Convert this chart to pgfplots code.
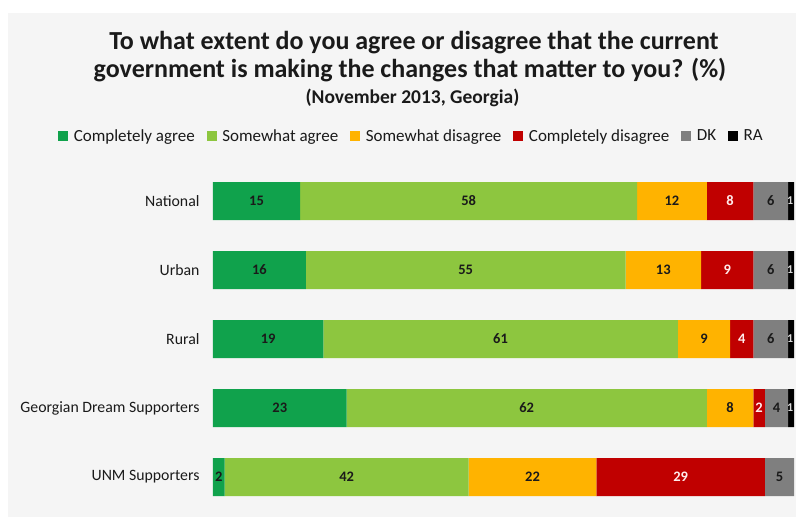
\documentclass[border=0pt]{standalone}
\usepackage{pgfplots}
\usepackage{pgfplotstable}
\pgfplotsset{compat=1.18}
\usepackage{fontspec}
\setmainfont{Carlito}
\definecolor{bgc}{HTML}{F5F5F5}
\definecolor{cagree}{HTML}{10A24C}
\definecolor{sagree}{HTML}{8DC63F}
\definecolor{sdis}{HTML}{FFB300}
\definecolor{cdis}{HTML}{C00000}
\definecolor{dkc}{HTML}{7F7F7F}
\definecolor{rac}{HTML}{000000}
\definecolor{txt}{HTML}{1A1A1A}

\pgfplotstableread{
cat ca sa sd cd dk ra
0 15 58 12 8 6 1
1 16 55 13 9 6 1
2 19 61 9 4 6 1
3 23 62 8 2 4 1
4 2 42 22 29 5 0
}\data

\pgfplotstableread{
x y lab
7.5 0 15
44 0 58
79 0 12
96 0 6
8 1 16
43.5 1 55
77.5 1 13
96 1 6
9.5 2 19
49.5 2 61
84.5 2 9
96 2 6
11.5 3 23
54 3 62
89 3 8
97 3 4
1 4 2
23 4 42
55 4 22
97.5 4 5
}\labdark

\pgfplotstableread{
x y lab
89 0 8
88.5 1 9
91 2 4
94 3 2
80.5 4 29
}\labred

\pgfplotstableread{
x y lab
99.35 0 1
99.35 1 1
99.35 2 1
99.35 3 1
}\labra

\begin{document}
\begin{tikzpicture}[x=1pt,y=1pt]
\useasboundingbox (0,0) rectangle (796,517);
\fill[white] (0,0) rectangle (796,517);
\fill[bgc] (8,0) rectangle (796,504);
\node[font=\bfseries\fontsize{26}{30}\selectfont, text=txt, anchor=base] at (414,467) {To what extent do you agree or disagree that the current};
\node[font=\bfseries\fontsize{26}{30}\selectfont, text=txt, anchor=base] at (410,439) {government is making the changes that matter to you? (\%)};
\node[font=\bfseries\fontsize{19.5}{22}\selectfont, text=txt, anchor=base] at (412.5,413) {(November 2013, Georgia)};

\pgfplotsset{mygeom/.style={
  scale only axis, width=581pt, height=345pt,
  at={(213pt,5.5pt)}, anchor=south west,
  xmin=0, xmax=100, ymin=-0.5, ymax=4.5, y dir=reverse,
  enlargelimits=false,
}}

\begin{axis}[mygeom,
  xbar stacked, bar width=38pt,
  axis line style={draw=none},
  xtick=\empty,
  ytick={0,1,2,3,4},
  yticklabels={National, Urban, Rural, Georgian Dream Supporters, UNM Supporters},
  major tick length=0pt,
  yticklabel style={font=\fontsize{15.8}{18}\selectfont, text=txt, xshift=-10pt},
  legend columns=6,
  legend style={at={(0.3417,1.0884)}, anchor=center, draw=none, fill=none,
    font=\fontsize{17}{19}\selectfont, text=txt,
    nodes={inner sep=2pt},
    /tikz/every odd column/.append style={column sep=3.5pt},
    /tikz/every even column/.append style={column sep=10pt}},
  legend image code/.code={\fill[#1] (0pt,-5pt) rectangle (10pt,5pt);},
]
\addplot[fill=cagree, draw=none] table[x=ca, y=cat] {\data};
\addplot[fill=sagree, draw=none] table[x=sa, y=cat] {\data};
\addplot[fill=sdis, draw=none] table[x=sd, y=cat] {\data};
\addplot[fill=cdis, draw=none] table[x=cd, y=cat] {\data};
\addplot[fill=dkc, draw=none] table[x=dk, y=cat] {\data};
\addplot[fill=rac, draw=none] table[x=ra, y=cat] {\data};
\legend{Completely agree, Somewhat agree, Somewhat disagree, Completely disagree, DK, RA}
\end{axis}

\begin{axis}[mygeom, hide axis]
\addplot[draw=none, mark=none, nodes near coords, point meta=explicit symbolic,
  nodes near coords align={center},
  every node near coord/.append style={font=\bfseries\fontsize{14.5}{16}\selectfont, text=txt, anchor=center}]
  table[x=x, y=y, meta=lab] {\labdark};
\addplot[draw=none, mark=none, nodes near coords, point meta=explicit symbolic,
  nodes near coords align={center},
  every node near coord/.append style={font=\bfseries\fontsize{14.5}{16}\selectfont, text=white!92!red, anchor=center}]
  table[x=x, y=y, meta=lab] {\labred};
\addplot[draw=none, mark=none, nodes near coords, point meta=explicit symbolic,
  nodes near coords align={center},
  every node near coord/.append style={font=\bfseries\fontsize{12}{13}\selectfont, text=white!85!black, anchor=center}]
  table[x=x, y=y, meta=lab] {\labra};
\end{axis}
\end{tikzpicture}
\end{document}
